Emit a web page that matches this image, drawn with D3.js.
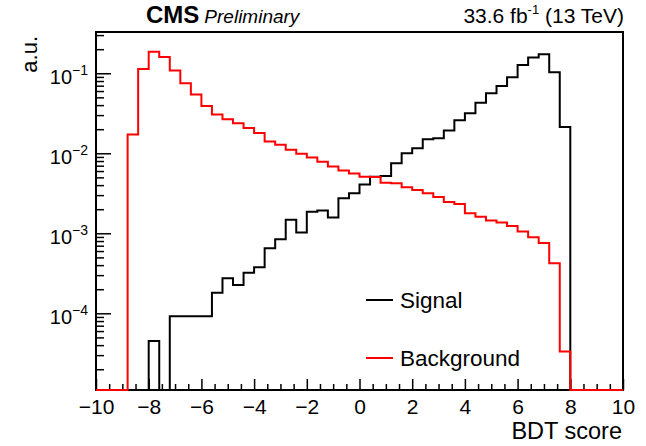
<!DOCTYPE html>
<html><head><meta charset="utf-8">
<script src="https://cdn.jsdelivr.net/npm/d3@7"></script>
<style>
body{margin:0;background:#fff}
text{font-family:"Liberation Sans", Arial, Helvetica, sans-serif;fill:#000}
</style>
</head><body>
<svg id="c" width="646" height="446"></svg>
<script>
// ---- data ----
const binEdges = [-10,-9.6,-9.2,-8.8,-8.4,-8,-7.6,-7.2,-6.8,-6.4,-6,-5.6,-5.2,-4.8,-4.4,-4,-3.6,-3.2,-2.8,-2.4,-2,-1.6,-1.2,-0.8,-0.4,0,0.4,0.8,1.2,1.6,2,2.4,2.8,3.2,3.6,4,4.4,4.8,5.2,5.6,6,6.4,6.8,7.2,7.6,8,8.4,8.8,9.2,9.6,10];
const signal = [0,0,0,0,0,4.5e-5,0,9.2e-5,9.2e-5,9.2e-5,9.2e-5,1.81e-4,2.74e-4,2.26e-4,3.22e-4,3.76e-4,6.5e-4,8.4e-4,1.48e-3,1.02e-3,1.86e-3,1.93e-3,1.57e-3,2.74e-3,3.16e-3,4.07e-3,5.1e-3,5.2e-3,7.5e-3,1.0e-2,1.155e-2,1.5e-2,1.54e-2,1.92e-2,2.59e-2,3.16e-2,4.29e-2,5.62e-2,6.94e-2,8.91e-2,0.127,0.158,0.173,0.103,0.0213,0,0,0,0,0];
const background = [0,0,0,0.0172,0.113,0.186,0.160,0.108,0.075,0.0543,0.039,0.0305,0.0267,0.0237,0.0207,0.0179,0.0140,0.0128,0.0111,0.00989,0.00886,0.00785,0.00684,0.0061,0.00559,0.0051,0.00506,0.00429,0.00422,0.00376,0.00348,0.00316,0.00284,0.00246,0.00232,0.00178,0.00161,0.00144,0.00136,0.00123,0.00105,0.00089,0.000757,0.000422,3.33e-5,0,0,0,0,0];
const xMajorTicks = [-10,-8,-6,-4,-2,0,2,4,6,8,10];
const xMinorTicks = [-9.5,-9,-8.5,-7.5,-7,-6.5,-5.5,-5,-4.5,-3.5,-3,-2.5,-1.5,-1,-0.5,0.5,1,1.5,2.5,3,3.5,4.5,5,5.5,6.5,7,7.5,8.5,9,9.5];
const yMajorTicks = [1e-1,1e-2,1e-3,1e-4];
const yMajorExp = ["−1","−2","−3","−4"];
const yMinorTicks = [3e-1,2e-1,9e-2,8e-2,7e-2,6e-2,5e-2,4e-2,3e-2,2e-2,9e-3,8e-3,7e-3,6e-3,5e-3,4e-3,3e-3,2e-3,9e-4,8e-4,7e-4,6e-4,5e-4,4e-4,3e-4,2e-4,9e-5,8e-5,7e-5,6e-5,5e-5,4e-5,3e-5,2e-5];
const seriesNames = ["Signal","Background"];
const seriesColors = ["#000000","#ff0000"];

// ---- layout ----
const L=96, R=623, T=32, B=390;
const svg = d3.select("#c");
const x = d3.scaleLinear().domain([-10,10]).range([L,R]);
const y = d3.scaleLog().domain([1.1e-5,0.328]).range([B,T]);
const yv = v => v>0 ? Math.max(T, Math.min(B, y(v))) : B;

// frame
svg.append("rect").attr("x",L).attr("y",T).attr("width",R-L).attr("height",B-T)
  .attr("fill","none").attr("stroke","#000").attr("stroke-width",2);

// x axis
const gx = svg.append("g").attr("transform",`translate(0,${B})`);
gx.call(d3.axisBottom(x).tickValues(xMinorTicks).tickSize(-6).tickFormat(""));
gx.call(g=>g.select(".domain").remove());
const gx2 = svg.append("g").attr("transform",`translate(0,${B})`);
gx2.call(d3.axisBottom(x).tickValues(xMajorTicks).tickSize(-11).tickPadding(9).tickFormat(d3.format("d")));
gx2.call(g=>g.select(".domain").remove());
svg.selectAll(".tick line").attr("stroke","#000").attr("stroke-width",1.5);
gx2.selectAll("text").attr("font-size",21).attr("font-family","Liberation Sans, Arial, sans-serif").attr("fill","#000");

// y axis
const gy = svg.append("g").attr("transform",`translate(${L},0)`);
gy.call(d3.axisLeft(y).tickValues(yMinorTicks).tickSize(-8).tickFormat(""));
gy.call(g=>g.select(".domain").remove());
const gy2 = svg.append("g").attr("transform",`translate(${L},0)`);
gy2.call(d3.axisLeft(y).tickValues(yMajorTicks).tickSize(-15).tickPadding(7).tickFormat(""));
gy2.call(g=>g.select(".domain").remove());
svg.selectAll(".tick line").attr("stroke","#000").attr("stroke-width",1.5);
gy2.selectAll(".tick text").each(function(d,i){
  const t = d3.select(this).attr("font-size",20).attr("font-family","Liberation Sans, Arial, sans-serif")
    .attr("fill","#000").attr("dy",null).attr("y",10).attr("x",-8).attr("text-anchor","end");
  t.append("tspan").text("10");
  t.append("tspan").attr("font-size",14).attr("dy",-9).text(yMajorExp[i]);
});

// histograms
const line = d3.line().x(d=>x(d[0])).y(d=>yv(d[1])).curve(d3.curveStepAfter);
[signal, background].forEach((vals,k)=>{
  const pts = vals.map((v,i)=>[binEdges[i], v]);
  pts.push([binEdges[binEdges.length-1], vals[vals.length-1]]);
  svg.append("path").attr("d", line(pts)).attr("fill","none")
    .attr("stroke", seriesColors[k]).attr("stroke-width",2);
});

// legend
const legY = [300, 358];
seriesNames.forEach((n,k)=>{
  svg.append("line").attr("x1",366).attr("x2",393).attr("y1",legY[k]).attr("y2",legY[k])
    .attr("stroke",seriesColors[k]).attr("stroke-width",2);
  svg.append("text").attr("x",400).attr("y",legY[k]+8).attr("font-size",22.5).text(n);
});

// titles
svg.append("text").attr("x",622).attr("y",439).attr("text-anchor","end").attr("font-size",23.5).text("BDT score");
svg.append("text").attr("transform","translate(37,36) rotate(-90)").attr("text-anchor","end")
  .attr("font-size",22).text("a.u.");
const t1 = svg.append("text").attr("x",146).attr("y",23);
t1.append("tspan").attr("font-weight","bold").attr("font-size",24).text("CMS");
t1.append("tspan").attr("font-style","italic").attr("font-size",19).attr("dx",5).text("Preliminary");
const t2 = svg.append("text").attr("x",624).attr("y",23).attr("text-anchor","end").attr("font-size",21);
t2.append("tspan").text("33.6 fb");
t2.append("tspan").attr("font-size",13).attr("dy",-9).text("-1");
t2.append("tspan").attr("dy",9).text(" (13 TeV)");
</script>
</body></html>
